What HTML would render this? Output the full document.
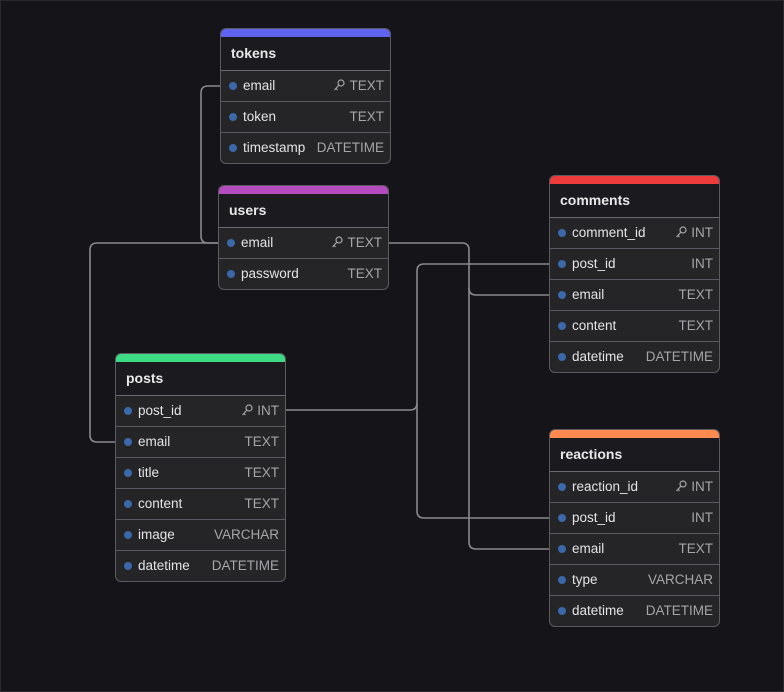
<!DOCTYPE html>
<html><head><meta charset="utf-8">
<style>
html,body{margin:0;padding:0;}
body{width:784px;height:692px;background:#151419;position:relative;overflow:hidden;font-family:"Liberation Sans",sans-serif;}
.frame{position:absolute;left:0;top:0;width:782px;height:690px;border:1px solid #2a2a2e;}
svg.lines{position:absolute;left:0;top:0;}
.t{position:absolute;width:169px;border:1px solid #5a5a60;border-radius:6px;overflow:hidden;background:#252528;}
.bar{height:8px;}
.h{height:33px;background:#1b1b1f;color:#e8e8ea;font-weight:bold;font-size:14px;line-height:33px;padding-left:10px;border-bottom:1px solid #6a6a70;}
.r{height:30px;border-top:1px solid #5a5a62;position:relative;font-size:13.5px;color:#e4e4e6;line-height:30px;}
.h + .r{border-top:none;}
.d{position:absolute;left:8px;top:11px;width:8px;height:8px;border-radius:50%;background:#3a68a8;}
.n{position:absolute;left:22px;}
.ty{position:absolute;right:6px;color:#a5a5aa;}
.k{display:inline-block;vertical-align:-2px;margin-right:4px;}
</style></head><body>
<div class="frame"></div>
<svg class="lines" width="784" height="692" fill="none" stroke="#8a8a8e" stroke-width="1.6">
<path d="M220 86 H208 Q201 86 201 93 V236 Q201 243 208 243 H218"/>
<path d="M218 243 H97 Q90 243 90 250 V435 Q90 442 97 442 H115"/>
<path d="M388 243 H462 Q469 243 469 250 V288 Q469 295 476 295 H549"/>
<path d="M469 288 V542 Q469 549 476 549 H549"/>
<path d="M285 410 H410 Q417 410 417 403 V271 Q417 264 424 264 H549"/>
<path d="M417 403 V511 Q417 518 424 518 H549"/>
</svg>

<div class="t" style="left:220px;top:28px;">
<div class="bar" style="background:#6062f0"></div>
<div class="h">tokens</div>
<div class="r"><span class="d"></span><span class="n">email</span><span class="ty"><svg class="k" width="12" height="13" viewBox="0 0 12 13" fill="none" stroke="#a5a5aa" stroke-width="1.2"><circle cx="8" cy="4" r="3"/><path d="M6 6 L1.5 11 M3 9.5 L4.5 11"/></svg>TEXT</span></div>
<div class="r"><span class="d"></span><span class="n">token</span><span class="ty">TEXT</span></div>
<div class="r"><span class="d"></span><span class="n">timestamp</span><span class="ty">DATETIME</span></div>
</div>

<div class="t" style="left:218px;top:185px;">
<div class="bar" style="background:#b44cc0"></div>
<div class="h">users</div>
<div class="r"><span class="d"></span><span class="n">email</span><span class="ty"><svg class="k" width="12" height="13" viewBox="0 0 12 13" fill="none" stroke="#a5a5aa" stroke-width="1.2"><circle cx="8" cy="4" r="3"/><path d="M6 6 L1.5 11 M3 9.5 L4.5 11"/></svg>TEXT</span></div>
<div class="r"><span class="d"></span><span class="n">password</span><span class="ty">TEXT</span></div>
</div>

<div class="t" style="left:549px;top:175px;">
<div class="bar" style="background:#ee3c3c"></div>
<div class="h">comments</div>
<div class="r"><span class="d"></span><span class="n">comment_id</span><span class="ty"><svg class="k" width="12" height="13" viewBox="0 0 12 13" fill="none" stroke="#a5a5aa" stroke-width="1.2"><circle cx="8" cy="4" r="3"/><path d="M6 6 L1.5 11 M3 9.5 L4.5 11"/></svg>INT</span></div>
<div class="r"><span class="d"></span><span class="n">post_id</span><span class="ty">INT</span></div>
<div class="r"><span class="d"></span><span class="n">email</span><span class="ty">TEXT</span></div>
<div class="r"><span class="d"></span><span class="n">content</span><span class="ty">TEXT</span></div>
<div class="r"><span class="d"></span><span class="n">datetime</span><span class="ty">DATETIME</span></div>
</div>

<div class="t" style="left:115px;top:353px;">
<div class="bar" style="background:#3ddc84"></div>
<div class="h">posts</div>
<div class="r"><span class="d"></span><span class="n">post_id</span><span class="ty"><svg class="k" width="12" height="13" viewBox="0 0 12 13" fill="none" stroke="#a5a5aa" stroke-width="1.2"><circle cx="8" cy="4" r="3"/><path d="M6 6 L1.5 11 M3 9.5 L4.5 11"/></svg>INT</span></div>
<div class="r"><span class="d"></span><span class="n">email</span><span class="ty">TEXT</span></div>
<div class="r"><span class="d"></span><span class="n">title</span><span class="ty">TEXT</span></div>
<div class="r"><span class="d"></span><span class="n">content</span><span class="ty">TEXT</span></div>
<div class="r"><span class="d"></span><span class="n">image</span><span class="ty">VARCHAR</span></div>
<div class="r"><span class="d"></span><span class="n">datetime</span><span class="ty">DATETIME</span></div>
</div>

<div class="t" style="left:549px;top:429px;">
<div class="bar" style="background:#ff8a50"></div>
<div class="h">reactions</div>
<div class="r"><span class="d"></span><span class="n">reaction_id</span><span class="ty"><svg class="k" width="12" height="13" viewBox="0 0 12 13" fill="none" stroke="#a5a5aa" stroke-width="1.2"><circle cx="8" cy="4" r="3"/><path d="M6 6 L1.5 11 M3 9.5 L4.5 11"/></svg>INT</span></div>
<div class="r"><span class="d"></span><span class="n">post_id</span><span class="ty">INT</span></div>
<div class="r"><span class="d"></span><span class="n">email</span><span class="ty">TEXT</span></div>
<div class="r"><span class="d"></span><span class="n">type</span><span class="ty">VARCHAR</span></div>
<div class="r"><span class="d"></span><span class="n">datetime</span><span class="ty">DATETIME</span></div>
</div>
</body></html>
